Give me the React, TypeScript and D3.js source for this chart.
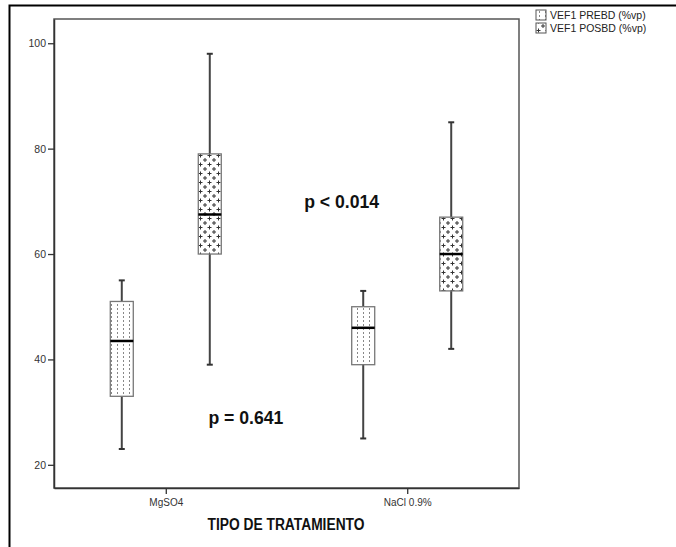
import React, { useEffect, useRef } from "react";
import * as d3 from "d3";

// categories and series
const groups = ["MgSO4", "NaCl 0.9%"];
const series = ["VEF1 PREBD (%vp)", "VEF1 POSBD (%vp)"];

// box statistics per group, order: PREBD, POSBD
const mins = [[23, 39], [25, 42]];
const q1s = [[33, 60], [39, 53]];
const medians = [[43.5, 67.5], [46, 60]];
const q3s = [[51, 79], [50, 67]];
const maxs = [[55, 98], [53, 85]];

const yTicks = [20, 40, 60, 80, 100];

const annotations = [
  { text: "p < 0.014", x: 0.038, value: 68.8, len: 75 },
  { text: "p = 0.641", x: -0.168, value: 27.8, len: 75 }
];

export default function App() {
  const ref = useRef<SVGSVGElement>(null);

  useEffect(() => {
    document.body.style.margin = "0";
    const svg = d3.select(ref.current);
    svg.selectAll("*").remove();

    const width = 676;
    const height = 547;
    const plot = { left: 54, top: 19, right: 519, bottom: 488 };

    const font = "'Liberation Sans', Arial, sans-serif";

    // outer frame
    svg.append("rect")
      .attr("x", 9.5).attr("y", 5.5)
      .attr("width", width).attr("height", height)
      .attr("fill", "none").attr("stroke", "#000").attr("stroke-width", 2);

    const defs = svg.append("defs");
    const dots = defs.append("pattern")
      .attr("id", "dots").attr("patternUnits", "userSpaceOnUse")
      .attr("width", 6).attr("height", 4);
    dots.append("rect").attr("width", 6).attr("height", 4).attr("fill", "#fff");
    dots.append("rect").attr("x", 3).attr("y", 0).attr("width", 1).attr("height", 2).attr("fill", "#888");

    const plus = defs.append("pattern")
      .attr("id", "plus").attr("patternUnits", "userSpaceOnUse")
      .attr("width", 9).attr("height", 9);
    plus.append("rect").attr("width", 9).attr("height", 9).attr("fill", "#fff");
    [[2.5, 2.5], [7, 7]].forEach(([cx, cy]) => {
      plus.append("rect").attr("x", cx - 2).attr("y", cy - 0.5).attr("width", 4).attr("height", 1).attr("fill", "#333");
      plus.append("rect").attr("x", cx - 0.5).attr("y", cy - 2).attr("width", 1).attr("height", 4).attr("fill", "#333");
    });
    // wrap-around pieces of the second cross
    plus.append("rect").attr("x", 5).attr("y", -2.5).attr("width", 4).attr("height", 1).attr("fill", "#333");
    const fills = ["url(#dots)", "url(#plus)"];

    const y = d3.scaleLinear().domain([15.6, 104.6]).range([plot.bottom, plot.top]);
    const x = d3.scalePoint<string>().domain(groups).range([plot.left, plot.right]).padding(0.463);
    const xs = d3.scalePoint<string>().domain(series).range([-88, 88]).padding(0.5);
    const boxW = 23;
    const capW = 6;

    // plot frame
    svg.append("rect")
      .attr("x", plot.left).attr("y", plot.top)
      .attr("width", plot.right - plot.left).attr("height", plot.bottom - plot.top)
      .attr("fill", "none").attr("stroke", "#555").attr("stroke-width", 1.5);

    const yAxis = svg.append("g")
      .attr("transform", `translate(${plot.left},0)`)
      .call(d3.axisLeft(y).tickValues(yTicks).tickSize(6).tickSizeOuter(0).tickFormat(d3.format("d")));
    yAxis.select(".domain").attr("stroke", "#333").attr("stroke-width", 1.5);
    yAxis.selectAll(".tick line").attr("stroke", "#333").attr("stroke-width", 1.3);
    yAxis.selectAll(".tick text")
      .attr("x", -8).attr("font-family", font).attr("font-size", 10.5).attr("fill", "#333");

    const xAxis = svg.append("g")
      .attr("transform", `translate(0,${plot.bottom})`)
      .call(d3.axisBottom(x).tickSize(6).tickSizeOuter(0));
    xAxis.select(".domain").attr("stroke", "#333").attr("stroke-width", 1.5);
    xAxis.selectAll(".tick line").attr("stroke", "#333").attr("stroke-width", 1.3);
    xAxis.selectAll(".tick text")
      .attr("y", 11).attr("font-family", font).attr("font-size", 10).attr("fill", "#333");

    // boxes
    groups.forEach((g, gi) => {
      series.forEach((s, si) => {
        const cx = (x(g) as number) + (xs(s) as number);
        const box = svg.append("g");
        box.append("line")
          .attr("x1", cx).attr("x2", cx)
          .attr("y1", y(mins[gi][si])).attr("y2", y(maxs[gi][si]))
          .attr("stroke", "#444").attr("stroke-width", 2);
        [mins[gi][si], maxs[gi][si]].forEach(v => {
          box.append("line")
            .attr("x1", cx - capW / 2).attr("x2", cx + capW / 2)
            .attr("y1", y(v)).attr("y2", y(v))
            .attr("stroke", "#333").attr("stroke-width", 2);
        });
        box.append("rect")
          .attr("x", cx - boxW / 2).attr("y", y(q3s[gi][si]))
          .attr("width", boxW).attr("height", y(q1s[gi][si]) - y(q3s[gi][si]))
          .attr("fill", fills[si]).attr("stroke", "#777").attr("stroke-width", 1.3);
        box.append("line")
          .attr("x1", cx - boxW / 2).attr("x2", cx + boxW / 2)
          .attr("y1", y(medians[gi][si])).attr("y2", y(medians[gi][si]))
          .attr("stroke", "#000").attr("stroke-width", 2.5);
      });
    });

    // p-value annotations
    const mid = (plot.left + plot.right) / 2;
    const span = plot.right - plot.left;
    annotations.forEach(a => {
      svg.append("text")
        .attr("x", mid + a.x * span).attr("y", y(a.value))
        .attr("font-family", font).attr("font-weight", "bold").attr("font-size", 19)
        .attr("textLength", a.len).attr("lengthAdjust", "spacingAndGlyphs")
        .attr("fill", "#111")
        .text(a.text);
    });

    // axis title
    svg.append("text")
      .attr("x", 286).attr("y", 530).attr("text-anchor", "middle")
      .attr("font-family", font).attr("font-weight", "bold").attr("font-size", 16)
      .attr("textLength", 157).attr("lengthAdjust", "spacingAndGlyphs")
      .attr("fill", "#111")
      .text("TIPO DE TRATAMIENTO");

    // legend
    const legend = svg.append("g").attr("transform", "translate(536,15)");
    series.forEach((s, i) => {
      const row = legend.append("g").attr("transform", `translate(0,${i * 13})`);
      row.append("rect")
        .attr("x", 0).attr("y", -5).attr("width", 10).attr("height", 10)
        .attr("fill", fills[i]).attr("stroke", "#555").attr("stroke-width", 1);
      row.append("text")
        .attr("x", 14).attr("y", 4)
        .attr("font-family", font).attr("font-size", 10.5).attr("fill", "#222")
        .text(s);
    });
  }, []);

  return (
    <div>
      <svg ref={ref} width={676} height={547} style={{ display: "block" }}></svg>
    </div>
  );
}
